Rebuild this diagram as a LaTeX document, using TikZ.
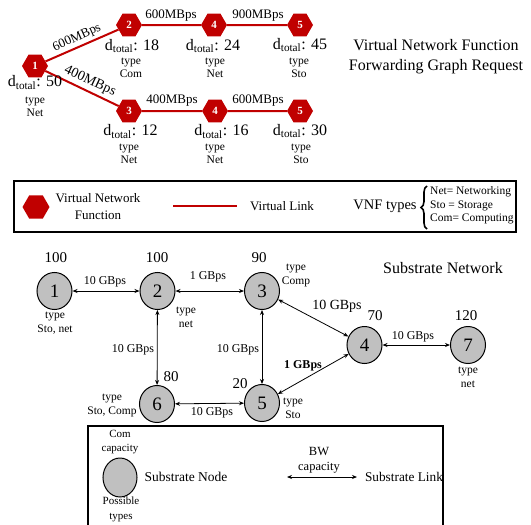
\documentclass[tikz,border=0pt]{standalone}
\usepackage{fontspec}
\setmainfont{Liberation Serif}
\usetikzlibrary{shapes.geometric,arrows.meta,decorations.pathreplacing}
\definecolor{vred}{RGB}{192,0,0}
\definecolor{sgray}{RGB}{192,192,192}
\begin{document}
\begin{tikzpicture}[x=1pt,y=-1pt,
 vnf/.style={regular polygon,regular polygon sides=6,minimum size=26pt,inner sep=0pt,fill=vred,text=white,font=\fontsize{11}{12}\selectfont\bfseries},
 vlink/.style={draw=vred,line width=2pt},
 bw/.style={font=\fontsize{13}{15}\selectfont,inner sep=0pt},
 dl/.style={font=\fontsize{16}{18}\selectfont,inner sep=0pt},
 tl/.style={font=\fontsize{11.5}{13}\selectfont,align=center,inner sep=0pt},
 stl/.style={font=\fontsize{11.5}{14}\selectfont,align=center,inner sep=0pt},
 snode/.style={ellipse,draw,line width=1pt,fill=sgray,minimum width=35pt,minimum height=37pt,inner sep=0pt,font=\fontsize{19}{20}\selectfont},
 sl/.style={draw,line width=0.8pt,{Stealth[length=5pt,width=4pt]}-{Stealth[length=5pt,width=4pt]}},
 el/.style={font=\fontsize{12}{14}\selectfont,inner sep=0pt},
 capl/.style={font=\fontsize{15}{16}\selectfont,inner sep=0pt},
 ttl/.style={font=\fontsize{16}{20}\selectfont,align=center,inner sep=0pt},
 lgt/.style={font=\fontsize{13}{17}\selectfont,align=center,inner sep=0pt},
]
\useasboundingbox (0,0) rectangle (531,525);

% ---------- VNF forwarding graph ----------
\node[vnf] (v1) at (35,66) {1};
\node[vnf] (v2) at (129,25) {2};
\node[vnf] (v4a) at (214,25) {4};
\node[vnf] (v5a) at (300,25) {5};
\node[vnf] (v3) at (129,111) {3};
\node[vnf] (v4b) at (215,111) {4};
\node[vnf] (v5b) at (300,111) {5};

\draw[vlink] (v1) -- (v2);
\draw[vlink] (v1) -- (v3);
\draw[vlink] (v2) -- (v4a);
\draw[vlink] (v4a) -- (v5a);
\draw[vlink] (v3) -- (v4b);
\draw[vlink] (v4b) -- (v5b);

\node[bw,rotate=24] (b12) at (77,38) {600MBps};
\node[bw,rotate=-25,font=\fontsize{14}{15}\selectfont] (b13) at (90,81) {400MBps};
\node[bw] (b24) at (171,16) {600MBps};
\node[bw] (b45) at (258,16) {900MBps};
\node[bw] (b34) at (172,101) {400MBps};
\node[bw] (b45b) at (258,101) {600MBps};

\node[dl] (d1) at (35,82.5) {d\textsubscript{total}: 50};
\node[dl] (d2) at (132,46) {d\textsubscript{total}: 18};
\node[dl] (d4a) at (213,46) {d\textsubscript{total}: 24};
\node[dl] (d5a) at (300,45) {d\textsubscript{total}: 45};
\node[dl] (d3) at (130.5,131.5) {d\textsubscript{total}: 12};
\node[dl] (d4b) at (221.5,131.5) {d\textsubscript{total}: 16};
\node[dl] (d5b) at (300,131) {d\textsubscript{total}: 30};

\node[tl] (t1) at (35,106.5) {type\\Net};
\node[tl] (t2) at (131,67.5) {type\\Com};
\node[tl] (t4a) at (215,67.5) {type\\Net};
\node[tl] (t5a) at (299,67.5) {type\\Sto};
\node[tl] (t3) at (129,154) {type\\Net};
\node[tl] (t4b) at (215,154) {type\\Net};
\node[tl] (t5b) at (301,154) {type\\Sto};

\node[ttl] (title1) at (436,57) {Virtual Network Function\\Forwarding Graph Request};

% ---------- legend 1 ----------
\draw[line width=1.3pt] (14,181) rectangle (516,232);
\node[vnf,minimum size=27pt] (lh) at (36,207) {};
\node[lgt] (lhtxt) at (98,206.5) {Virtual Network\\Function};
\coordinate (lla) at (173,206);
\coordinate (llb) at (237,206);
\draw[vlink] (lla) -- (llb);
\node[lgt] (lltxt) at (282,206) {Virtual Link};
\node[font=\fontsize{14.5}{16}\selectfont,inner sep=0pt] (vt) at (385,206) {VNF types};
\coordinate (bra) at (427,229);
\coordinate (brb) at (427,186);
\draw[line width=1.6pt,decorate,decoration={brace,amplitude=6pt}] (bra) -- (brb);
\node[font=\fontsize{11.5}{13.3}\selectfont,align=left,inner sep=0pt,anchor=west] (vtl) at (430,205.5) {Net= Networking\\Sto = Storage\\Com= Computing};

% ---------- substrate network ----------
\node[ttl] (title2) at (443,268) {Substrate Network};

\node[snode] (s1) at (54.5,291) {1};
\node[snode] (s2) at (157.5,291) {2};
\node[snode] (s3) at (262,291) {3};
\node[snode] (s4) at (364.5,345) {4};
\node[snode] (s5) at (262,403) {5};
\node[snode] (s6) at (157,404) {6};
\node[snode] (s7) at (468,345) {7};

\draw[sl] (s1) -- (s2);
\draw[sl] (s2) -- (s3);
\draw[sl] (s2) -- (s6);
\draw[sl] (s3) -- (s5);
\draw[sl] (s6) -- (s5);
\draw[sl] (s3) -- (s4);
\draw[sl] (s5) -- (s4);
\draw[sl] (s4) -- (s7);

\node[el] (e12) at (105,282) {10 GBps};
\node[el] (e23) at (208,277) {1 GBps};
\node[el] (e26) at (133,350) {10 GBps};
\node[el] (e35) at (238,350) {10 GBps};
\node[el] (e65) at (212,413) {10 GBps};
\node[el,font=\fontsize{14}{15}\selectfont] (e34) at (337,306) {10 GBps};
\node[el,font=\fontsize{12}{14}\selectfont\bfseries] (e54) at (303,366) {1 GBps};
\node[el] (e47) at (413,337) {10 GBps};

\node[capl] (c1) at (56,258) {100};
\node[capl] (c2) at (157,258) {100};
\node[capl] (c3) at (259,258) {90};
\node[capl] (c4) at (375,316) {70};
\node[capl] (c7) at (466,316) {120};
\node[capl] (c6) at (171,377) {80};
\node[capl] (c5) at (240,384) {20};

\node[stl] (ts1) at (55,323) {type\\Sto, net};
\node[stl] (ts2) at (186,317) {type\\net};
\node[stl] (ts3) at (296,275.5) {type\\Comp};
\node[stl] (ts7) at (468,377.5) {type\\net};
\node[stl] (ts5) at (293,408.5) {type\\Sto};
\node[stl] (ts6) at (112,405.5) {type\\Sto, Comp};

% ---------- legend 2 ----------
\draw[line width=1.3pt] (88,530) -- (88,426) -- (443,426) -- (443,530);
\node[stl,font=\fontsize{11}{14}\selectfont] (lc) at (120,442) {Com\\capacity};
\node[snode,minimum width=34pt,minimum height=39pt] (ls) at (120,477.5) {};
\node[stl,font=\fontsize{11}{15}\selectfont] (lp) at (121,509.5) {Possible\\types};
\node[lgt,font=\fontsize{13.5}{15}\selectfont] (lsn) at (186,477) {Substrate Node};
\node[stl,font=\fontsize{12.5}{15}\selectfont] (lbw) at (319,460.5) {BW\\capacity};
\coordinate (lsa) at (287,477);
\coordinate (lsb) at (357,477);
\draw[sl] (lsa) -- (lsb);
\node[lgt,font=\fontsize{13.3}{15}\selectfont] (lsl) at (404,477) {Substrate Link};
\end{tikzpicture}
\end{document}
